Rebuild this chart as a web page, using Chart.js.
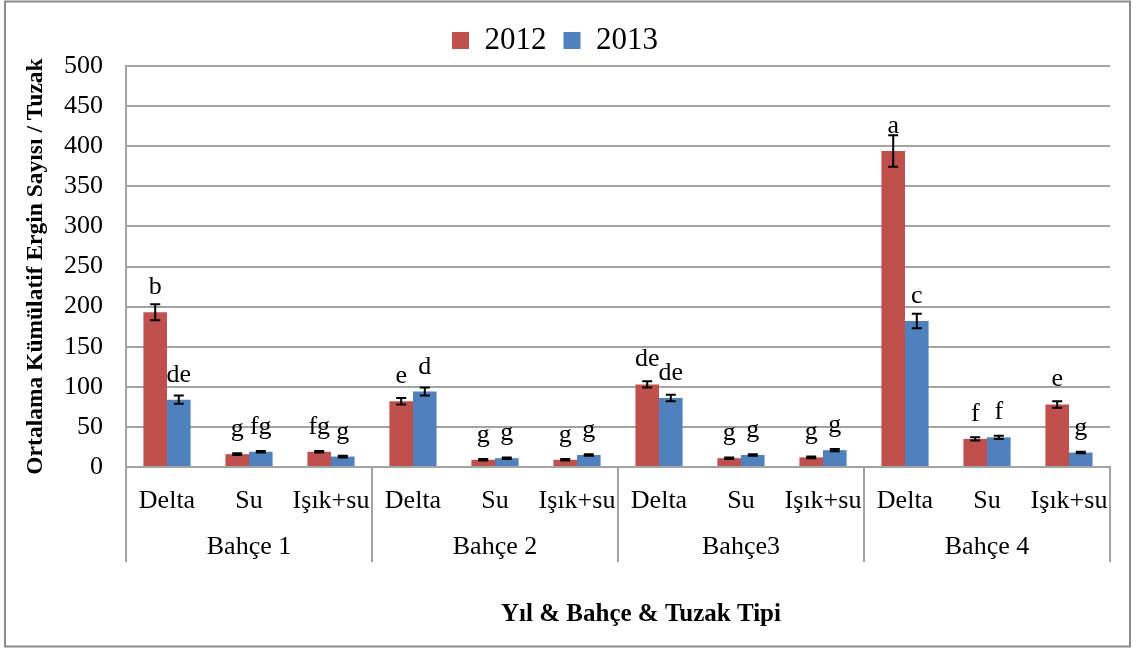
<!DOCTYPE html>
<html>
<head>
<meta charset="utf-8">
<script src="https://cdn.jsdelivr.net/npm/chart.js@4.4.0/dist/chart.umd.min.js"></script>
<style>
    html, body { margin: 0; padding: 0; background: #ffffff; }
    #wrap { width: 1133px; height: 650px; }
</style>
</head>
<body>
<div id="wrap"><canvas id="chart" width="1133" height="650"></canvas></div>
<script>
const categories = ['Delta', 'Su', 'Işık+su', 'Delta', 'Su', 'Işık+su', 'Delta', 'Su', 'Işık+su', 'Delta', 'Su', 'Işık+su'];
const gardens = ['Bahçe 1', 'Bahçe 2', 'Bahçe3', 'Bahçe 4'];
const xTitle = 'Yıl & Bahçe & Tuzak Tipi';

const values2012 = [193, 16, 19, 82, 9, 9, 103, 11, 12, 394, 35, 78];
const values2013 = [84, 19, 13, 94, 11, 15, 86, 15, 21, 182, 37, 18];
const errors2012 = [10, 1, 1, 4, 1, 1, 4, 1, 1, 19.5, 2, 4];
const errors2013 = [5, 1, 1, 5, 1, 1, 4, 1, 1.5, 9, 2, 1];
const letters2012 = ['b', 'g', 'fg', 'e', 'g', 'g', 'de', 'g', 'g', 'a', 'f', 'e'];
const letters2013 = ['de', 'fg', 'g', 'd', 'g', 'g', 'de', 'g', 'g', 'c', 'f', 'g'];
const yTicks = [0, 50, 100, 150, 200, 250, 300, 350, 400, 450, 500];

const serif = '"Liberation Serif", "Times New Roman", serif';
const gridGray = '#a3a3a3';

const errorBarPlugin = {
    id: 'errorBars',
    afterDatasetsDraw(chart) {
        const ctx = chart.ctx;
        const yScale = chart.scales.y;
        const errs = [errors2012, errors2013];
        const letters = [letters2012, letters2013];
        chart.data.datasets.forEach((ds, di) => {
            const meta = chart.getDatasetMeta(di);
            meta.data.forEach((bar, i) => {
                const v = ds.data[i];
                const e = errs[di][i];
                const yTop = yScale.getPixelForValue(v + e);
                const yBot = yScale.getPixelForValue(v - e);
                ctx.save();
                ctx.strokeStyle = '#000000';
                ctx.lineWidth = 2;
                ctx.beginPath();
                ctx.moveTo(bar.x, yTop);
                ctx.lineTo(bar.x, yBot);
                ctx.moveTo(bar.x - 5, yTop);
                ctx.lineTo(bar.x + 5, yTop);
                ctx.moveTo(bar.x - 5, yBot);
                ctx.lineTo(bar.x + 5, yBot);
                ctx.stroke();

                ctx.fillStyle = '#000000';
                ctx.font = '26px ' + serif;
                ctx.textAlign = 'center';
                ctx.textBaseline = 'alphabetic';
                ctx.fillText(letters[di][i], bar.x, yScale.getPixelForValue(v) - 18);
                ctx.restore();
            });
        });
    }
};

const groupAxisPlugin = {
    id: 'groupAxis',
    beforeDraw(chart) {
        const ctx = chart.ctx;
        ctx.save();
        ctx.fillStyle = '#ffffff';
        ctx.fillRect(0, 0, chart.width, chart.height);
        ctx.strokeStyle = '#8c8c8c';
        ctx.lineWidth = 2;
        ctx.strokeRect(5, 1.5, 1125, 645);
        ctx.restore();
    },
    afterDraw(chart) {
        const ctx = chart.ctx;
        const x = chart.scales.x;
        const area = chart.chartArea;
        const step = x.getPixelForValue(1) - x.getPixelForValue(0);
        ctx.save();
        ctx.strokeStyle = gridGray;
        ctx.lineWidth = 2;
        ctx.beginPath();
        for (let g = 0; g <= gardens.length; g++) {
            const px = x.getPixelForValue(g * 3) - step / 2;
            ctx.moveTo(px, area.bottom);
            ctx.lineTo(px, 562);
        }
        ctx.stroke();

        ctx.fillStyle = '#000000';
        ctx.font = '26px ' + serif;
        ctx.textAlign = 'center';
        ctx.textBaseline = 'middle';
        gardens.forEach((name, g) => {
            ctx.fillText(name, x.getPixelForValue(g * 3 + 1), 547);
        });

        // axis title sits a bit right of the plot centre, like the original
        ctx.font = 'bold 25px ' + serif;
        ctx.fillText(xTitle, 641, 615);
        ctx.restore();
    }
};

const data = {
    labels: categories,
    datasets: [
        { label: '2012', data: values2012, backgroundColor: '#C0504D' },
        { label: '2013', data: values2013, backgroundColor: '#4F81BD' }
    ]
};

const options = {
    responsive: false,
    animation: false,
    layout: { padding: { top: 8, right: 23, left: 0, bottom: 0 } },
    datasets: {
        bar: { categoryPercentage: 0.575, barPercentage: 1 }
    },
    plugins: {
        legend: {
            position: 'top',
            labels: {
                boxWidth: 17,
                boxHeight: 17,
                padding: 17,
                color: '#000000',
                font: { family: serif, size: 31 }
            }
        },
        tooltip: { enabled: false }
    },
    scales: {
        x: {
            grid: { display: false, drawTicks: false },
            border: { display: true, color: gridGray, width: 2 },
            ticks: {
                color: '#000000',
                font: { family: serif, size: 26 },
                padding: 19,
                autoSkip: false,
                maxRotation: 0
            },
            afterFit(scale) { scale.height = 183; }
        },
        y: {
            min: 0,
            max: 500,
            afterBuildTicks(scale) { scale.ticks = yTicks.map(v => ({ value: v })); },
            grid: { color: gridGray, lineWidth: 2, drawTicks: false },
            border: { display: true, color: gridGray, width: 2 },
            ticks: {
                color: '#000000',
                font: { family: serif, size: 26 },
                padding: 23
            },
            title: {
                display: true,
                text: 'Ortalama Kümülatif Ergin Sayısı / Tuzak',
                color: '#000000',
                font: { family: serif, size: 23.5, weight: 'bold' },
                padding: { top: 22, bottom: 0 }
            },
            afterFit(scale) { scale.width = 126; }
        }
    }
};

new Chart(document.getElementById('chart').getContext('2d'), {
    type: 'bar',
    data,
    options,
    plugins: [errorBarPlugin, groupAxisPlugin]
});
</script>
</body>
</html>
